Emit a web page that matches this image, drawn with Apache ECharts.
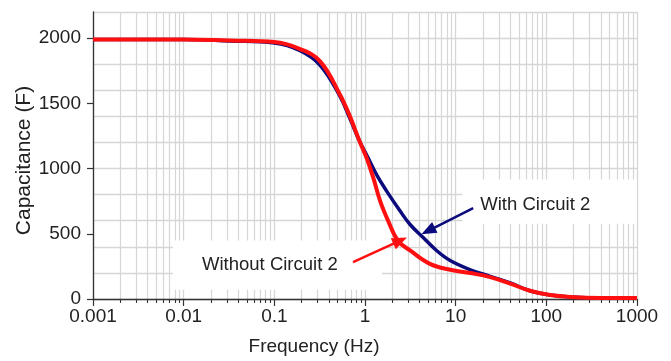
<!DOCTYPE html>
<html><head><meta charset="utf-8">
<script src="https://cdn.jsdelivr.net/npm/echarts@6/dist/echarts.min.js"></script>
<style>html,body{margin:0;padding:0;background:#fff}#c{width:671px;height:361px}</style>
</head><body><div id="c"></div>
<script>
// ---- data ----
const withFreq         = [0.001, 0.01, 0.032, 0.1, 0.19, 0.32, 0.53, 0.68, 0.88, 1.05, 1.35, 1.74, 2.44, 3.14, 4.38, 6.19, 8.69, 14.5, 24, 40, 66, 110, 184, 400, 1000];
const withCapacitance  = [1990, 1990, 1978, 1962, 1905, 1792, 1553, 1385, 1203, 1100, 949, 825, 674, 571, 471, 370, 295, 224, 174, 123, 63, 30, 15, 8, 8];
const withoutFreq        = [0.001, 0.01, 0.032, 0.1, 0.19, 0.32, 0.53, 0.68, 0.88, 1.05, 1.24, 1.47, 1.8, 2.3, 3.14, 5.2, 8.69, 14.5, 24, 40, 66, 110, 184, 400, 1000];
const withoutCapacitance = [1990, 1990, 1981, 1970, 1918, 1822, 1566, 1402, 1201, 1075, 924, 750, 599, 448, 372, 269, 224, 199, 168, 118, 63, 30, 15, 8, 8];
const xTickLabels = [0.001, 0.01, 0.1, 1, 10, 100, 1000];
const yTickLabels = [0, 500, 1000, 1500, 2000];
const seriesNames = ['With Circuit 2', 'Without Circuit 2'];

// minor log gridline positions (2..9 in each decade)
const minorFreqs = [];
xTickLabels.slice(0, -1).forEach(d => { for (let k = 2; k <= 9; k++) minorFreqs.push(+(d * k).toPrecision(3)); });

const FONT = '"Liberation Sans", Arial, sans-serif';
const GRID_C = '#d6d6d6';
const BLUE = '#0b0b7e', RED = '#ff1010';

function fmtX(v) {
  const n = Math.round(Math.log10(v));
  return n < 0 ? v.toFixed(-n) : String(Math.round(Math.pow(10, n)));
}

const chart = echarts.init(document.getElementById('c'), null, {renderer: 'canvas'});
chart.setOption({
  animation: false,
  backgroundColor: '#fff',
  grid: {left: 93, right: 34, top: 12, bottom: 59, containLabel: false},
  xAxis: [
    {
      type: 'log', logBase: 10, min: 0.001, max: 1000, position: 'bottom',
      name: 'Frequency (Hz)', nameLocation: 'middle', nameGap: 38, nameMoveOverlap: false,
      nameTextStyle: {fontFamily: FONT, fontSize: 19, color: '#222', padding: [0, 102, 0, 0]},
      axisLine: {show: true, onZero: false, lineStyle: {color: '#333', width: 1.3}},
      axisTick: {show: true, inside: false, length: 7, customValues: xTickLabels, lineStyle: {color: '#333', width: 1.2}},
      axisLabel: {show: true, margin: 8, customValues: xTickLabels, formatter: fmtX, fontFamily: FONT, fontSize: 19, color: '#222'},
      splitLine: {show: true, lineStyle: {color: GRID_C, width: 1.3}},
      minorTick: {show: false}, minorSplitLine: {show: false}
    },
    {
      type: 'log', logBase: 10, min: 0.001, max: 1000, position: 'bottom',
      axisLine: {show: false},
      axisTick: {show: true, inside: false, length: 4, customValues: minorFreqs, lineStyle: {color: '#333', width: 1.1}},
      axisLabel: {show: false},
      splitLine: {show: true, lineStyle: {color: GRID_C, width: 1.2}}
    }
  ],
  yAxis: [
    {
      type: 'value', min: 0, max: 2200, position: 'left',
      name: 'Capacitance (F)', nameLocation: 'middle', nameGap: 58, nameRotate: 90, nameMoveOverlap: false,
      nameTextStyle: {fontFamily: FONT, fontSize: 21, color: '#222', padding: [0, 10, 0, 0]},
      axisLine: {show: true, lineStyle: {color: '#333', width: 1.3}},
      axisTick: {show: true, inside: false, length: 6, customValues: yTickLabels, lineStyle: {color: '#333', width: 1.2}},
      axisLabel: {show: true, margin: 12, customValues: yTickLabels, formatter: v => String(v), fontFamily: FONT, fontSize: 19, color: '#222'},
      splitLine: {show: false}
    },
    {
      type: 'value', min: 0, max: 2200, interval: 200, position: 'left',
      axisLine: {show: false}, axisTick: {show: false}, axisLabel: {show: false},
      splitLine: {show: true, lineStyle: {color: GRID_C, width: 1.3}}
    }
  ],
  series: [
    {
      name: seriesNames[0], type: 'line', xAxisIndex: 0, yAxisIndex: 0,
      data: withFreq.map((f, i) => [f, withCapacitance[i]]),
      smooth: 0.4, showSymbol: false, symbol: 'none',
      lineStyle: {color: BLUE, width: 3.5}, z: 3,
      markArea: {
        silent: true, z: 1,
        itemStyle: {color: '#ffffff'},
        data: [
          [{coord: [0.0076, 448]}, {coord: [1.54, 70]}],
          [{coord: [11.8, 916]}, {coord: [1000, 576]}]
        ]
      }
    },
    {
      name: seriesNames[1], type: 'line', xAxisIndex: 0, yAxisIndex: 0,
      data: withoutFreq.map((f, i) => [f, withoutCapacitance[i]]),
      smooth: 0.4, showSymbol: false, symbol: 'none',
      lineStyle: {color: RED, width: 4}, z: 4,
      markLine: {
        silent: true, symbol: ['none', 'triangle'], symbolSize: [12, 15], precision: 6,
        label: {show: false},
        data: [
          [{coord: [0.738, 282], lineStyle: {color: RED, width: 2.5, type: 'solid'}, itemStyle: {color: RED}}, {coord: [2.44, 448]}],
          [{coord: [15.6, 697], lineStyle: {color: BLUE, width: 2.5, type: 'solid'}, itemStyle: {color: BLUE}}, {coord: [4.97, 523]}]
        ]
      },
      markPoint: {
        silent: true, symbol: 'circle', symbolSize: 0,
        label: {show: true, position: 'inside', fontFamily: FONT, fontSize: 18.5, color: '#222'},
        data: [
          {coord: [0.0893, 259], value: seriesNames[1], label: {formatter: seriesNames[1]}},
          {coord: [75.5, 720], value: seriesNames[0], label: {formatter: seriesNames[0]}}
        ]
      }
    }
  ]
});
</script></body></html>
